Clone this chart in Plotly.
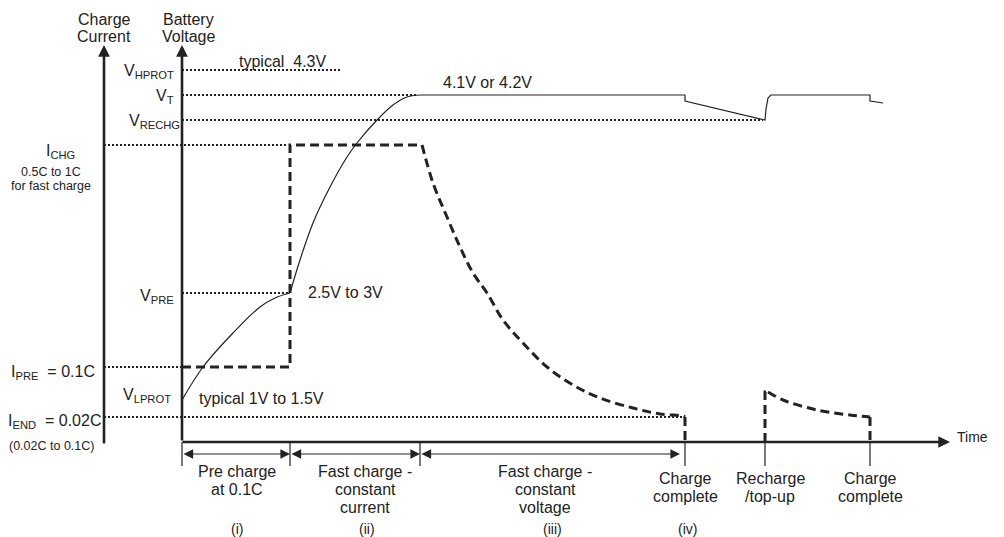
import plotly.graph_objects as go

# ---------------- data (diagram units: time to the right, level above the time axis) ----------
# phase boundaries on the time axis
t_phase = [0, 108, 238, 503]          # start, end of pre-charge, end of CC, charge complete
t_recharge = [583, 688]               # recharge start, charge complete again
t_axis_end = 768
t_current_axis = -78                  # position of the charge-current axis

# threshold levels
v_hprot = 372
v_t = 347
v_rechg = 322
i_chg = 297
v_pre = 149
i_pre = 75
v_lprot = 42
i_end = 25
axis_top = 397

# battery voltage curve: pre-charge part
v_pre_t = [0, 21, 51, 78, 93, 108]
v_pre_v = [42, 75, 109, 135, 144, 149]
# battery voltage curve: constant-current part
v_cc_t = [108, 118, 131, 148, 165, 175, 195, 211, 225, 238]
v_cc_v = [149, 182, 219, 255, 285, 299, 322, 337, 345, 347]
# battery voltage: CV, drop after completion, recharge
v_rest_t = [238, 503, 503, 583, 584, 586, 589, 688, 688, 701]
v_rest_v = [347, 347, 341, 322, 333, 344, 347, 347, 341, 339]

# charge current: pre-charge step then CC
i_step_t = [0, 108, 108, 240]
i_step_v = [75, 75, 297, 297]
# charge current: CV decay
i_decay_t = [240, 251, 265, 278, 291, 305, 321, 341, 365, 391, 418, 451, 478, 501, 503]
i_decay_v = [297, 259, 225, 195, 169, 149, 122, 99, 75, 57, 44, 34, 28, 26, 25]
# charge current: top-up
i_top_t = [586, 601, 635, 668, 688]
i_top_v = [50, 42, 32, 27, 25]
i_top_peak = 50

phase_labels = [["Pre charge", "at 0.1C"], ["Fast charge -", "constant", "current"],
                ["Fast charge -", "constant", "voltage"]]
phase_numbers = ["(i)", "(ii)", "(iii)", "(iv)"]
event_labels = [["Charge", "complete"], ["Recharge", "/top-up"], ["Charge", "complete"]]

# ---------------- figure ----------------
INK = "#222222"
FONT = "Arial, Liberation Sans, sans-serif"
BIG = 16
SMALL = 12.5
fig = go.Figure()

def line(x, y, width=1.2, dash=None, shape="linear", color=INK):
    fig.add_trace(go.Scatter(x=x, y=y, mode="lines", hoverinfo="skip",
                             line=dict(color=color, width=width, dash=dash, shape=shape)))

# dotted reference lines
DOT = "2px,2px"
line([0, 158], [v_hprot, v_hprot], 2, DOT)
line([0, 236], [v_t, v_t], 2, DOT)
line([0, 581], [v_rechg, v_rechg], 2, DOT)
line([t_current_axis, 104], [i_chg, i_chg], 2, DOT)
line([0, 106], [v_pre, v_pre], 2, DOT)
line([t_current_axis, 0], [i_pre, i_pre], 2, DOT)
line([t_current_axis, 500], [i_end, i_end], 2, DOT)

# voltage curve
line(v_pre_t, v_pre_v, 1.2, None, "spline")
line(v_cc_t, v_cc_v, 1.2, None, "spline")
line(v_rest_t, v_rest_v, 1.2)

# current curve
DASH = "9px,5px"
line(i_step_t, i_step_v, 3, DASH)
line(i_decay_t, i_decay_v, 3, DASH, "spline")
line([t_phase[3], t_phase[3]], [i_end, 0], 3, DASH)
line([t_recharge[0], t_recharge[0], i_top_t[0]], [0, i_top_peak, i_top_peak], 3, DASH)
line(i_top_t, i_top_v, 3, DASH, "spline")
line([t_recharge[1], t_recharge[1]], [i_top_v[-1], 0], 3, DASH)

# tick marks below the time axis
for t in t_phase + t_recharge:
    line([t, t], [0, -24], 1.2)

annotations = []

def arrow(x0, y0, x1, y1, width, size, both=False):
    a = dict(x=x1, y=y1, ax=x0, ay=y0, xref="x", yref="y", axref="x", ayref="y",
             text="", showarrow=True, arrowhead=2, arrowsize=size, arrowwidth=width,
             arrowcolor=INK, standoff=0, startstandoff=0)
    if both:
        a.update(arrowside="end+start", startarrowhead=2, startarrowsize=size)
    annotations.append(a)

# axes
arrow(t_current_axis, -3, t_current_axis, axis_top, 2.6, 0.9)
arrow(0, 0, 0, axis_top, 2.6, 0.9)
arrow(-1, 0, t_axis_end, 0, 2.6, 0.9)

# phase double arrows
arrow(t_phase[0], -12, t_phase[1], -12, 1.2, 1.6, True)
arrow(t_phase[1], -12, t_phase[2], -12, 1.2, 1.6, True)
arrow(t_phase[2], -12, t_phase[3] - 5, -12, 1.2, 1.6, True)

def text(x, y, s, size=BIG, xanchor="center", yanchor="middle"):
    annotations.append(dict(x=x, y=y, xref="x", yref="y", text=s, showarrow=False,
                            xanchor=xanchor, yanchor=yanchor,
                            font=dict(family=FONT, size=size, color=INK)))

def lines(x, y_first, rows, step=18, size=BIG, xanchor="center"):
    for k, s in enumerate(rows):
        text(x, y_first - k * step, s, size, xanchor)

lines(t_current_axis, 423, ["Charge", "Current"], 17)
lines(6, 423, ["Battery", "Voltage"], 17)
text(55, 381, "typical  4.3V", BIG, "left")
text(-6, 371, "V<sub>HPROT</sub>", BIG, "right")
text(-6, 346, "V<sub>T</sub>", BIG, "right")
text(0, 321, "V<sub>RECHG</sub>", BIG, "right")
text(-122, 291, "I<sub>CHG</sub>", BIG)
lines(-131, 270, ["0.5C to 1C", "for fast charge"], 14, SMALL)
text(-6, 146, "V<sub>PRE</sub>", BIG, "right")
text(124, 150, "2.5V to 3V", BIG, "left")
text(-173, 70, "I<sub>PRE</sub>  = 0.1C", BIG, "left")
text(-9, 47, "V<sub>LPROT</sub>", BIG, "right")
text(15, 44, "typical 1V to 1.5V", BIG, "left")
text(-176, 21, "I<sub>END</sub>  = 0.02C", BIG, "left")
text(-175, -4, "(0.02C to 0.1C)", SMALL, "left")
text(259, 360, "4.1V or 4.2V", BIG, "left")
text(773, 5, "Time", 14, "left")

phase_centers = [55, 183, 363]
for c, rows in zip(phase_centers, phase_labels):
    lines(c, -29, rows, 18)
event_centers = [t_phase[3], t_recharge[0] + 5, t_recharge[1]]
for c, rows in zip(event_centers, event_labels):
    lines(c, -36, rows, 18)
number_centers = [55, 185, 370, 505]
for c, s in zip(number_centers, phase_numbers):
    text(c, -87, s, 14)

fig.update_layout(
    width=1004, height=537, margin=dict(l=0, r=0, t=0, b=0),
    paper_bgcolor="white", plot_bgcolor="white", showlegend=False,
    xaxis=dict(range=[-182, 822], visible=False, fixedrange=True),
    yaxis=dict(range=[-95, 442], visible=False, fixedrange=True),
    annotations=annotations,
)

fig.write_html("out.html", config={"displayModeBar": False},
               post_script="document.body.style.margin='0';")
